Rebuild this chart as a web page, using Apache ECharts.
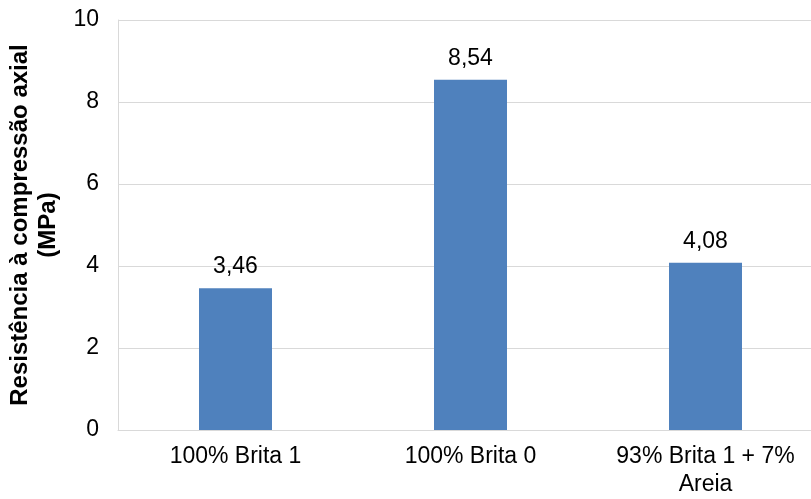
<!DOCTYPE html>
<html>
<head>
<meta charset="utf-8">
<script src="https://cdn.jsdelivr.net/npm/echarts@6/dist/echarts.min.js"></script>
<style>
  html, body { margin: 0; padding: 0; background: #fff; overflow: hidden; }
  #chart { width: 811px; height: 499px; }
</style>
</head>
<body>
<div id="chart"></div>
<script>
// Axial compressive strength per aggregate mix
const categories = ['100% Brita 1', '100% Brita 0', '93% Brita 1 + 7%\nAreia'];
const strengthMPa = [3.46, 8.54, 4.08];
const yTicks = { min: 0, max: 10, interval: 2 };

const FONT = '"Liberation Sans", Arial, sans-serif';

const chart = echarts.init(document.getElementById('chart'), null, { renderer: 'canvas' });
chart.setOption({
  animation: false,
  backgroundColor: '#ffffff',
  textStyle: { fontFamily: FONT, color: '#000' },
  // plot area runs slightly past the right edge of the canvas
  grid: {
    left: 118, top: 20, bottom: 69, width: 705,
    containLabel: false, outerBoundsMode: 'none'
  },
  xAxis: {
    type: 'category',
    data: categories,
    axisLine: { show: true, lineStyle: { color: '#d9d9d9', width: 1 } },
    axisTick: { show: false },
    axisLabel: {
      fontFamily: FONT, fontSize: 23, color: '#000', margin: 13,
      lineHeight: 28, interval: 0
    }
  },
  yAxis: {
    type: 'value',
    min: yTicks.min, max: yTicks.max, interval: yTicks.interval,
    name: 'Resistência à compressão axial\n(MPa)',
    nameLocation: 'middle',
    nameGap: 49,
    nameTextStyle: {
      fontFamily: FONT, fontSize: 24, fontWeight: 'bold', color: '#000',
      lineHeight: 28, align: 'center'
    },
    axisLine: { show: true, lineStyle: { color: '#d9d9d9', width: 1 } },
    axisTick: { show: false },
    axisLabel: { fontFamily: FONT, fontSize: 23, color: '#000', margin: 19 },
    splitLine: { show: true, lineStyle: { color: '#d9d9d9', width: 1 } }
  },
  series: [{
    type: 'bar',
    data: strengthMPa,
    barWidth: 73,
    itemStyle: { color: '#4f81bd' },
    label: {
      show: true,
      position: 'top',
      distance: 10,
      fontFamily: FONT,
      fontSize: 23,
      color: '#000',
      formatter: p => p.value.toFixed(2).replace('.', ',')
    }
  }]
});
</script>
</body>
</html>
